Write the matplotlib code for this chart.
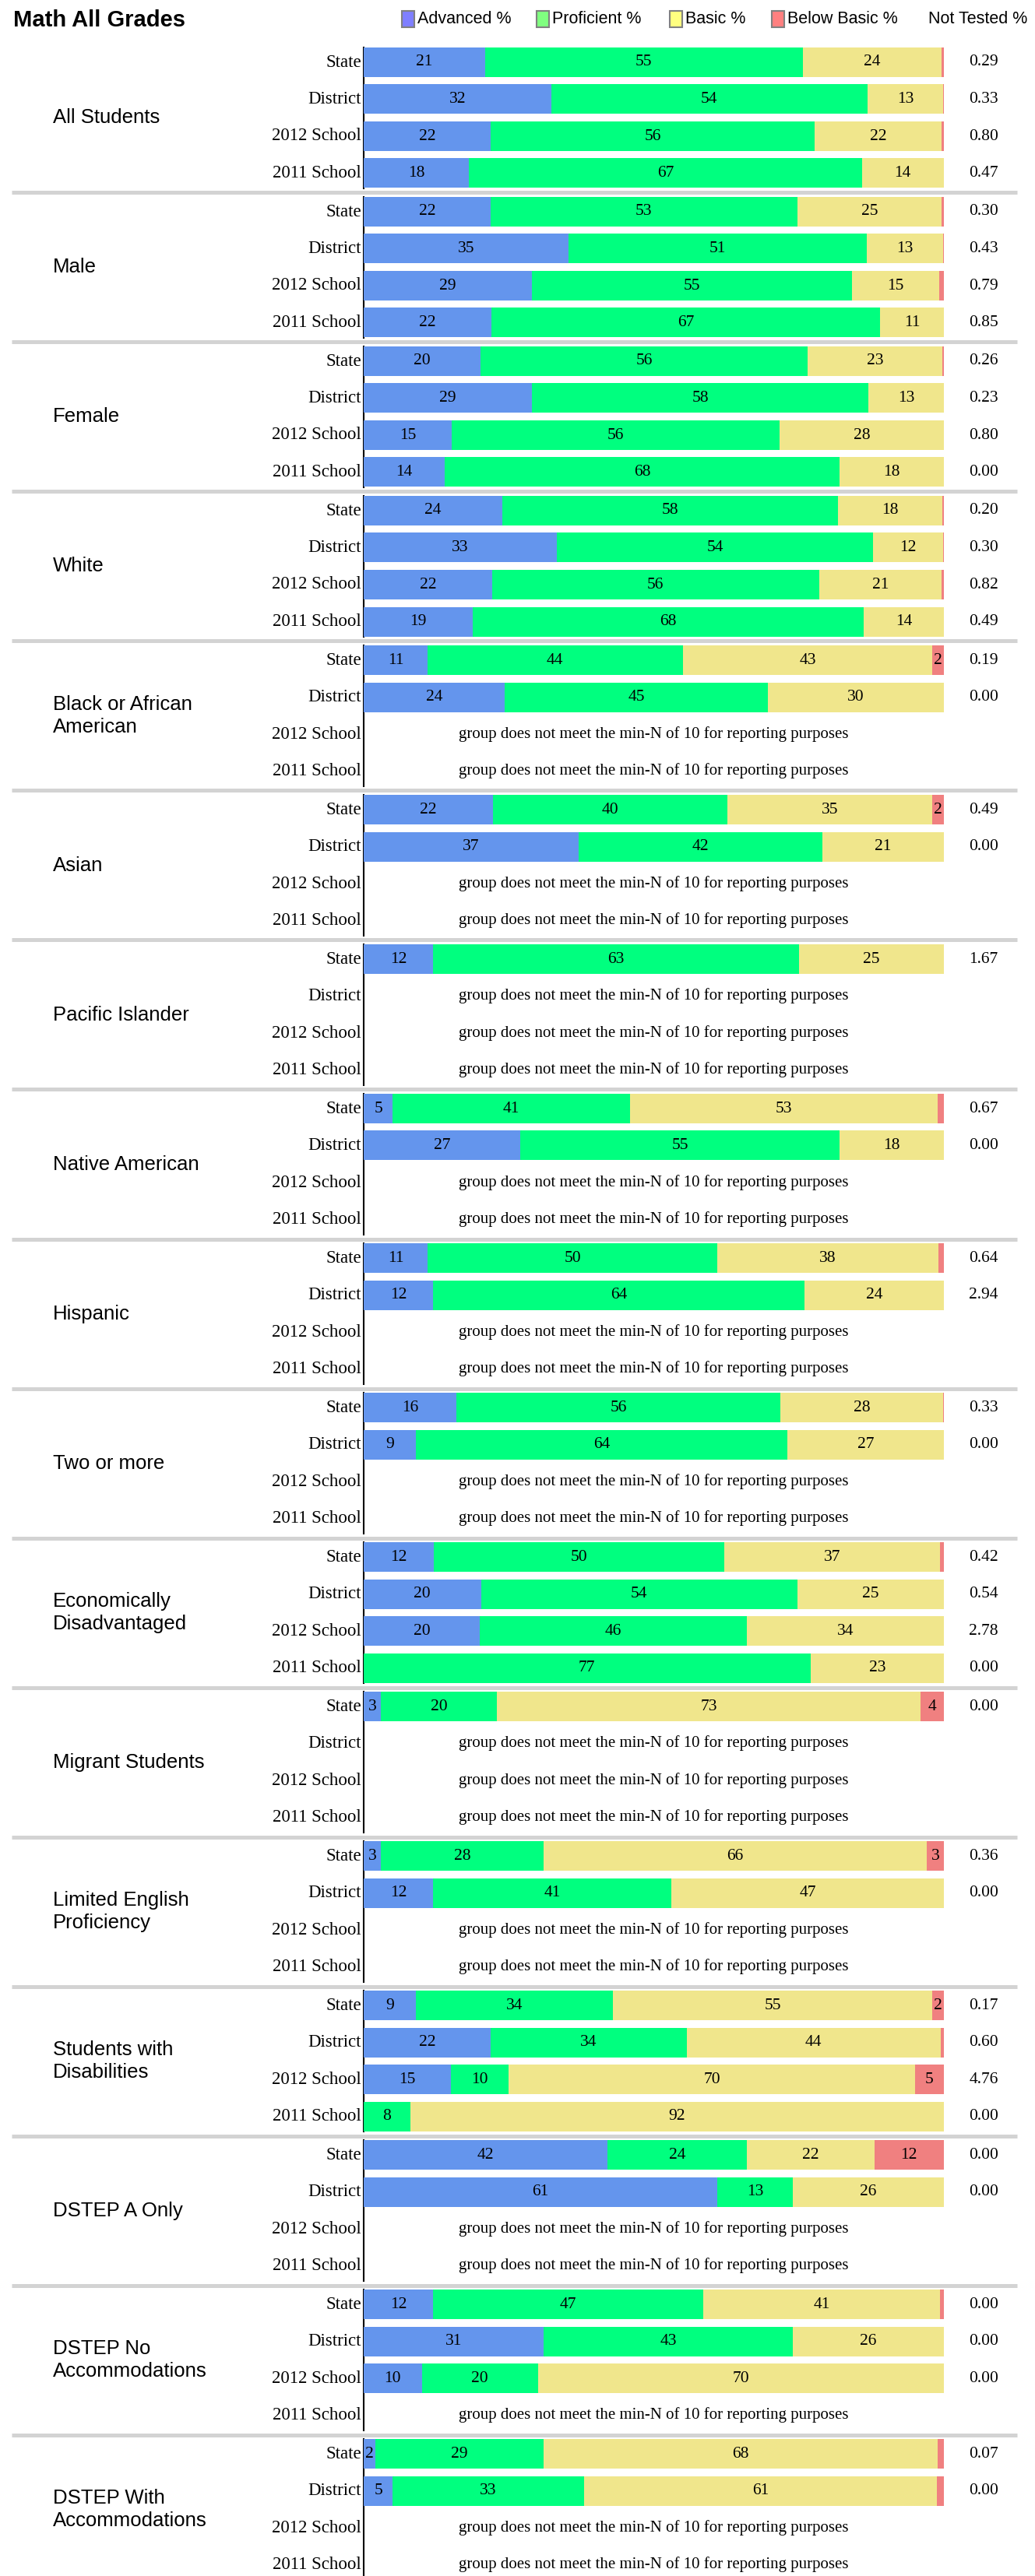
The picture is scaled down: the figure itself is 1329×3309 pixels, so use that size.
import matplotlib.pyplot as plt
from matplotlib.patches import Rectangle

# ---------------- data ----------------
groups = ['All Students', 'Male', 'Female', 'White', 'Black or African\nAmerican',
          'Asian', 'Pacific Islander', 'Native American', 'Hispanic', 'Two or more',
          'Economically\nDisadvantaged', 'Migrant Students', 'Limited English\nProficiency',
          'Students with\nDisabilities', 'DSTEP A Only', 'DSTEP No\nAccommodations',
          'DSTEP With\nAccommodations']
rows = ['State', 'District', '2012 School', '2011 School']

# one list per group: State, District, 2012 School, 2011 School (None = not reported)
advanced = [[21, 32, 22, 18], [22, 35, 29, 22], [20, 29, 15, 14], [24, 33, 22, 19],
            [11, 24, None, None], [22, 37, None, None], [12, None, None, None],
            [5, 27, None, None], [11, 12, None, None], [16, 9, None, None],
            [12, 20, 20, 0], [3, None, None, None], [3, 12, None, None],
            [9, 22, 15, 0], [42, 61, None, None], [12, 31, 10, None], [2, 5, None, None]]
proficient = [[55, 54, 56, 67], [53, 51, 55, 67], [56, 58, 56, 68], [58, 54, 56, 68],
              [44, 45, None, None], [40, 42, None, None], [63, None, None, None],
              [41, 55, None, None], [50, 64, None, None], [56, 64, None, None],
              [50, 54, 46, 77], [20, None, None, None], [28, 41, None, None],
              [34, 34, 10, 8], [24, 13, None, None], [47, 43, 20, None], [29, 33, None, None]]
basic = [[24, 13, 22, 14], [25, 13, 15, 11], [23, 13, 28, 18], [18, 12, 21, 14],
         [43, 30, None, None], [35, 21, None, None], [25, None, None, None],
         [53, 18, None, None], [38, 24, None, None], [28, 27, None, None],
         [37, 25, 34, 23], [73, None, None, None], [66, 47, None, None],
         [55, 44, 70, 92], [22, 26, None, None], [41, 26, 70, None], [68, 61, None, None]]
below_basic = [[0.4, 0.1, 0.4, 0], [0.4, 0.15, 0.8, 0], [0.3, 0, 0, 0], [0.3, 0.1, 0.4, 0],
               [2, 0, None, None], [2, 0, None, None], [0, None, None, None],
               [1.1, 0, None, None], [1.0, 0, None, None], [0.2, 0, None, None],
               [0.7, 0, 0, 0], [4, None, None, None], [3, 0, None, None],
               [2, 0.6, 5, 0], [12, 0, None, None], [0.7, 0, 0, None], [1.1, 1.2, None, None]]
not_tested = [[0.29, 0.33, 0.80, 0.47], [0.30, 0.43, 0.79, 0.85], [0.26, 0.23, 0.80, 0.00],
              [0.20, 0.30, 0.82, 0.49], [0.19, 0.00, None, None], [0.49, 0.00, None, None],
              [1.67, None, None, None], [0.67, 0.00, None, None], [0.64, 2.94, None, None],
              [0.33, 0.00, None, None], [0.42, 0.54, 2.78, 0.00], [0.00, None, None, None],
              [0.36, 0.00, None, None], [0.17, 0.60, 4.76, 0.00], [0.00, 0.00, None, None],
              [0.00, 0.00, 0.00, None], [0.07, 0.00, None, None]]

legend_labels = ['Advanced %', 'Proficient %', 'Basic %', 'Below Basic %', 'Not Tested %']
bar_colors = ['#6495ED', '#00FF7F', '#F0E68C', '#F08080']
legend_colors = ['#7f7fff', '#80ff80', '#ffff80', '#ff8080']
MSG = 'group does not meet the min-N of 10 for reporting purposes'

# ---------------- layout (pixels) ----------------
W, H = 1329, 3309
X0, X1 = 467, 1212
TOP, GROUP_H, ROW_OFF, ROW_H, BAR_H = 55.5, 192, 24.5, 47.5, 38
SERIF = 'Liberation Serif'
SANS = 'Liberation Sans'

fig = plt.figure(figsize=(W / 100, H / 100), dpi=100)
deco = fig.add_axes([0, 0, 1, 1])
deco.set_xlim(0, W)
deco.set_ylim(H, 0)
deco.axis('off')

ax = fig.add_axes([X0 / W, 0, (X1 - X0) / W, 1])
ax.set_xlim(0, 100)
ax.set_ylim(H, 0)
ax.axis('off')

# title + legend
deco.text(17, 26, 'Math All Grades', fontsize=21, fontweight='bold', family=SANS, va='center')
leg_x = [516, 689, 860, 991, 1192]
for i, lab in enumerate(legend_labels):
    if i < 4:
        deco.add_patch(Rectangle((leg_x[i], 14), 16, 21, facecolor=legend_colors[i],
                                 edgecolor='#808080', lw=1.5))
        tx = leg_x[i] + 20
    else:
        tx = leg_x[i]
    deco.text(tx, 25, lab, fontsize=15.5, family=SANS, va='center')

for g, name in enumerate(groups):
    s = TOP + g * GROUP_H
    if g > 0:
        deco.plot([15, 1306], [s, s], color='#d3d3d3', lw=3.6, solid_capstyle='butt')
    deco.plot([X0, X0], [s + 5.5, s + 186.5], color='black', lw=1.5)
    deco.text(68, s + 96, name, fontsize=18.5, family=SANS, va='center', ha='left',
              linespacing=1.25)
    for r, rname in enumerate(rows):
        yc = s + ROW_OFF + r * ROW_H
        deco.text(464, yc, rname, fontsize=16.5, family=SERIF, ha='right', va='center')
        vals = [advanced[g][r], proficient[g][r], basic[g][r], below_basic[g][r]]
        if vals[0] is None:
            ax.text(50, yc, MSG, fontsize=15, family=SERIF, ha='center', va='center')
            continue
        total = sum(vals)
        left = 0
        for v, c in zip(vals, bar_colors):
            w = v / total * 100
            if v > 0:
                ax.barh(yc, w, left=left, height=BAR_H, color=c, lw=0)
            if v >= 2:
                ax.text(left + w / 2, yc, f'{v:g}', fontsize=15.5, family=SERIF,
                        ha='center', va='center')
            left += w
        deco.text(1263, yc, f'{not_tested[g][r]:.2f}', fontsize=15.5, family=SERIF,
                  ha='center', va='center')

fig.savefig('out.png', dpi=100)
